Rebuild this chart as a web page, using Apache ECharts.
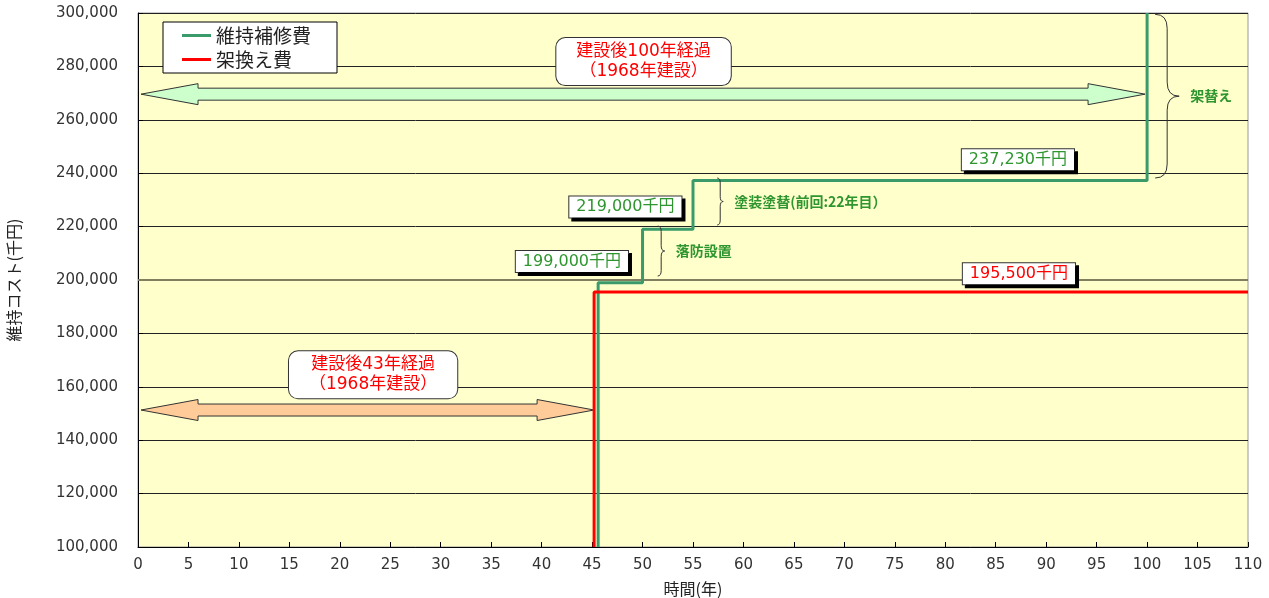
<!DOCTYPE html>
<html><head><meta charset="utf-8">
<script src="https://cdn.jsdelivr.net/npm/echarts@6/dist/echarts.min.js"></script>
<style>html,body{margin:0;padding:0;background:#fff}#chart{width:1269px;height:598px}</style>
</head><body><div id="chart"></div>
<script>
const FONT = '"Noto Sans CJK JP", "Noto Sans", sans-serif';
const NUM_FONT = '"DejaVu Sans", "Noto Sans CJK JP", sans-serif';

// Axis ranges (years / 千円)
const X_MIN = 0, X_MAX = 110, X_STEP = 5;
const Y_MIN = 100000, Y_MAX = 300000, Y_STEP = 20000;

// 維持補修費: year of each step and cost level reached (the final step at year 100 is the replacement, off the top)
const maintYears = [45.6, 50, 55, 100];
const maintCosts = [199000, 219000, 237230];

// 架換え費: year of replacement and its cost
const replaceYear = 45.2;
const replaceCost = 195500;

// Series names
const seriesNames = ['維持補修費', '架換え費'];

// Value callouts: [x, y] anchor of each box, paired with the cost it states
const maintCalloutAt = [[43.0, 206900], [48.3, 227300], [87.2, 245000]];
const replaceCalloutAt = [[87.3, 202300]];

// Period arrows: [fromYear, toYear, level]
const periodArrows = [[0.3, 99.8, 269600], [0.3, 45.2, 151300]];
const arrowFills = ['#ccffcc', '#ffcc99'];

// Period notes: [x, y] centre and text
const periodNoteAt = [[50.1, 281800], [23.3, 164500]];
const periodNotes = ['建設後100年経過\n（1968年建設）', '建設後43年経過\n（1968年建設）'];

// Braces: [leftYear, topValue, bottomValue]
const braces = [[100.8, 299500, 238200], [51.5, 220200, 201500], [57.4, 238200, 220600]];
const braceWidths = [24, 7, 6];
const braceNotes = ['架替え', '落防設置', '塗装塗替(前回:22年目）'];

// Build step lines
const maintLine = [[maintYears[0], Y_MIN]];
maintCosts.forEach((c, i) => {
  maintLine.push([maintYears[i], c]);
  maintLine.push([maintYears[i + 1], c]);
});
maintLine.push([maintYears[maintYears.length - 1], Y_MAX]);

const replaceLine = [[replaceYear, Y_MIN], [replaceYear, replaceCost], [X_MAX, replaceCost]];

const GREEN_LINE = '#3a9a6a';
const GREEN_TEXT = '#2f962f';
const RED = '#ff0000';

const fmt = v => v.toLocaleString('en-US');

function calloutSeries(points, values, color) {
  return {
    type: 'custom', coordinateSystem: 'cartesian2d', clip: false, z: 10,
    data: points.map((p, i) => [p[0], p[1], values[i]]),
    renderItem(params, api) {
      const p = api.coord([api.value(0), api.value(1)]);
      return {
        type: 'text', x: p[0], y: p[1],
        style: {
          text: fmt(api.value(2)) + '千円', fill: color,
          font: '16px ' + NUM_FONT, align: 'center', verticalAlign: 'middle',
          backgroundColor: '#fff', borderColor: '#333', borderWidth: 1,
          padding: [3, 7, 2, 7],
          shadowColor: '#000', shadowOffsetX: 3, shadowOffsetY: 3, shadowBlur: 0
        }
      };
    }
  };
}

const chart = echarts.init(document.getElementById('chart'));
chart.setOption({
  animation: false,
  textStyle: { fontFamily: FONT },
  grid: {
    left: 138, right: 21, top: 13, bottom: 51, outerBoundsMode: 'none',
    show: true, backgroundColor: '#ffffcc', borderColor: '#999', borderWidth: 1
  },
  legend: {
    orient: 'vertical', left: 163, top: 22,
    data: seriesNames,
    icon: 'rect', itemWidth: 29, itemHeight: 3, itemGap: 5,
    padding: [4, 26, 4, 19],
    backgroundColor: '#fff', borderColor: '#000', borderWidth: 1,
    textStyle: { fontSize: 19, color: '#222', fontFamily: FONT }
  },
  xAxis: {
    type: 'value', min: X_MIN, max: X_MAX, interval: X_STEP,
    name: '時間(年)', nameLocation: 'middle', nameGap: 34,
    nameTextStyle: { fontSize: 16, color: '#222', fontFamily: FONT },
    axisLine: { show: true, lineStyle: { color: '#000', width: 1 } },
    axisTick: { show: true, inside: true, length: 5, lineStyle: { color: '#000' } },
    axisLabel: { color: '#333', fontSize: 15, margin: 11, fontFamily: NUM_FONT },
    splitLine: { show: false }
  },
  yAxis: {
    type: 'value', min: Y_MIN, max: Y_MAX, interval: Y_STEP,
    name: '維持コスト(千円)', nameLocation: 'middle', nameGap: 116,
    nameTextStyle: { fontSize: 16, color: '#222', fontFamily: FONT },
    axisLine: { show: true, lineStyle: { color: '#000', width: 1 } },
    axisTick: { show: true, inside: true, length: 5, lineStyle: { color: '#000' } },
    axisLabel: { color: '#333', fontSize: 15, margin: 20, formatter: fmt, fontFamily: NUM_FONT },
    splitLine: { show: true, lineStyle: { color: '#222', width: 1 } }
  },
  series: [
    {
      name: seriesNames[0], type: 'line', data: maintLine, showSymbol: false, z: 5,
      itemStyle: { color: GREEN_LINE }, lineStyle: { color: GREEN_LINE, width: 3 },
      markLine: {
        silent: true, symbol: 'none', label: { show: false },
        lineStyle: { color: '#7f7f5f', width: 2, type: 'solid' },
        data: [{ yAxis: 200000 }]
      }
    },
    {
      name: seriesNames[1], type: 'line', data: replaceLine, showSymbol: false, z: 5,
      itemStyle: { color: RED }, lineStyle: { color: RED, width: 3 }
    },
    // double-headed period arrows
    {
      type: 'custom', coordinateSystem: 'cartesian2d', clip: false, z: 4,
      data: periodArrows,
      renderItem(params, api) {
        const a = api.coord([api.value(0), api.value(2)]);
        const b = api.coord([api.value(1), api.value(2)]);
        const y = a[1], x1 = a[0], x2 = b[0];
        const hl = 57, hh = 10.5, sh = 6;
        return {
          type: 'polygon',
          shape: { points: [
            [x1, y], [x1 + hl, y - hh], [x1 + hl, y - sh], [x2 - hl, y - sh], [x2 - hl, y - hh],
            [x2, y], [x2 - hl, y + hh], [x2 - hl, y + sh], [x1 + hl, y + sh], [x1 + hl, y + hh]
          ] },
          style: { fill: arrowFills[params.dataIndex], stroke: '#333', lineWidth: 1 }
        };
      }
    },
    // rounded period notes
    {
      type: 'custom', coordinateSystem: 'cartesian2d', clip: false, z: 6,
      data: periodNoteAt,
      renderItem(params, api) {
        const p = api.coord([api.value(0), api.value(1)]);
        return {
          type: 'text', x: p[0], y: p[1],
          style: {
            text: periodNotes[params.dataIndex], fill: RED,
            font: '17px ' + NUM_FONT, lineHeight: 20, align: 'center', verticalAlign: 'middle',
            backgroundColor: '#fff', borderColor: '#333', borderWidth: 1, borderRadius: 9,
            padding: [4, 20, 3, 20]
          }
        };
      }
    },
    // braces with notes
    {
      type: 'custom', coordinateSystem: 'cartesian2d', clip: false, z: 6,
      data: braces,
      renderItem(params, api) {
        const top = api.coord([api.value(0), api.value(1)]);
        const bot = api.coord([api.value(0), api.value(2)]);
        const w = braceWidths[params.dataIndex];
        const x0 = top[0], y0 = top[1], y1 = bot[1];
        const xm = x0 + w / 2, ym = (y0 + y1) / 2, xt = x0 + w;
        const r = Math.min(w / 2 + 2, (y1 - y0) / 4);
        const d = `M${x0},${y0} Q${xm},${y0} ${xm},${y0 + r} L${xm},${ym - r} Q${xm},${ym} ${xt},${ym} ` +
                  `Q${xm},${ym} ${xm},${ym + r} L${xm},${y1 - r} Q${xm},${y1} ${x0},${y1}`;
        return {
          type: 'group',
          children: [
            { type: 'path', shape: { pathData: d }, style: { fill: null, stroke: '#333', lineWidth: 1 } },
            { type: 'text', x: xt + 11, y: ym,
              style: { text: braceNotes[params.dataIndex], fill: GREEN_TEXT,
                font: 'bold 14px ' + FONT, align: 'left', verticalAlign: 'middle' } }
          ]
        };
      }
    },
    calloutSeries(maintCalloutAt, maintCosts, GREEN_TEXT),
    calloutSeries(replaceCalloutAt, [replaceCost], RED)
  ]
});
</script></body></html>
